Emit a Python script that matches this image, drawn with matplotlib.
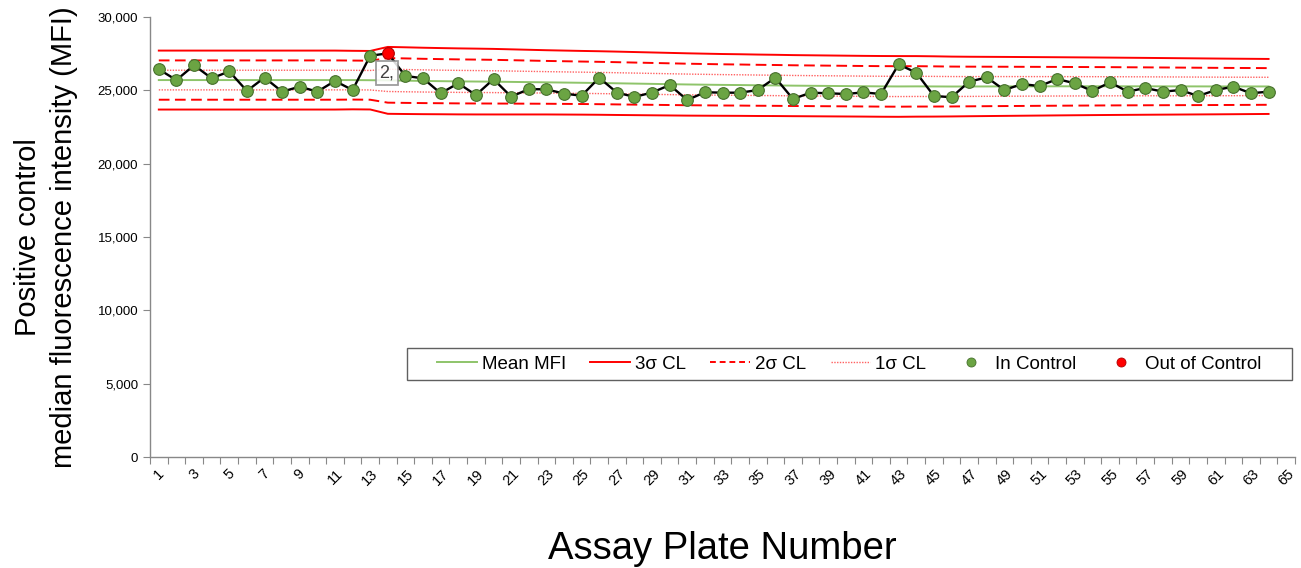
import matplotlib
matplotlib.use("Agg")
import matplotlib.pyplot as plt
from matplotlib.lines import Line2D
from matplotlib.patches import Rectangle
import numpy as np

plt.rcParams['font.family'] = ['Liberation Sans', 'DejaVu Sans']

# ---- data ----
plates = list(range(1, 65))
mfi = [26430, 25700, 26710, 25820, 26290, 24960, 25870, 24910, 25250, 24910,
       25640, 25020, 27360, 27520, 25980, 25820, 24800, 25480, 24680, 25760,
       24570, 25080, 25070, 24780, 24630, 25860, 24850, 24550, 24850, 25360,
       24340, 24870, 24840, 24840, 25020, 25860, 24410, 24840, 24800, 24750,
       24860, 24750, 26770, 26205, 24620, 24525, 25590, 25886, 25020, 25430,
       25290, 25770, 25480, 24950, 25550, 24910, 25160, 24910, 25020, 24610,
       25020, 25250, 24800, 24910]
out_of_control = [14]

mean_mfi = [25700, 25700, 25700, 25700, 25700, 25700, 25700, 25700, 25700, 25700,
            25700, 25700, 25690, 25680, 25660, 25640, 25625, 25610, 25600, 25590,
            25575, 25560, 25545, 25530, 25515, 25500, 25480, 25460, 25440, 25420,
            25400, 25385, 25370, 25360, 25345, 25335, 25320, 25310, 25300, 25290,
            25280, 25270, 25265, 25270, 25265, 25260, 25262, 25265, 25268, 25270,
            25272, 25274, 25275, 25276, 25276, 25275, 25274, 25272, 25270, 25268,
            25266, 25265, 25265, 25265]
sigma = [670, 670, 670, 670, 670, 670, 670, 670, 670, 670,
         670, 665, 665, 760, 758, 755, 752, 750, 748, 745,
         740, 735, 730, 727, 724, 722, 720, 717, 714, 711,
         708, 705, 702, 700, 698, 696, 694, 693, 692, 691,
         690, 690, 690, 688, 685, 680, 676, 673, 670, 667,
         664, 661, 658, 655, 652, 649, 646, 643, 640, 637,
         634, 631, 628, 625]
annotation_text = "2,"

x_ticklabels = [str(i) for i in range(1, 66, 2)]
y_ticks = [0, 5000, 10000, 15000, 20000, 25000, 30000]

# ---- figure ----
W, H = 1301, 568
fig = plt.figure(figsize=(W/100, H/100), dpi=100)
ax = fig.add_axes([150/W, 111/H, 1145/W, 440/H])

x = np.array(plates)
m = np.array(mean_mfi)
s = np.array(sigma)
red = '#FF0000'
green_line = '#8EC46A'
mk_face, mk_edge = '#6BA443', '#46702C'

ax.plot(x, m, color=green_line, lw=1.4, zorder=2)
for k in (1, -1):
    ax.plot(x, m + k*3*s, color=red, lw=1.4, zorder=2)
    ax.plot(x, m + k*2*s, color=red, lw=1.4, dashes=(5.5, 2.8), zorder=2)
    ax.plot(x, m + k*1*s, color='#FF6060', lw=1.0, dashes=(1, 1), zorder=2)

ax.plot(x, mfi, color='black', lw=1.7, zorder=3)
inc = [i for i, p in enumerate(plates) if p not in out_of_control]
ooc = [i for i, p in enumerate(plates) if p in out_of_control]
ax.plot(x[inc], np.array(mfi)[inc], ls='none', marker='o', ms=8.4,
        mfc=mk_face, mec=mk_edge, mew=0.8, zorder=4)
ax.plot(x[ooc], np.array(mfi)[ooc], ls='none', marker='o', ms=8.4,
        mfc=red, mec='#B00000', mew=0.8, zorder=4)

ax.text(13.95, 26180, annotation_text, ha='center', va='center', fontsize=13,
        color='#404040', zorder=5,
        bbox=dict(boxstyle='square,pad=0.2', fc='white', ec='#8C8C8C', lw=1.3, alpha=0.85))

ax.set_xlim(0.5, 65.5)
ax.set_ylim(0, 30000)
ax.set_xticks(np.arange(0.5, 66, 1))
ax.set_xticklabels([])
ax.set_xticks(np.arange(1, 66, 2), minor=True)
ax.set_xticklabels(x_ticklabels, minor=True, rotation=45, ha='center', va='top', fontsize=10.5)
ax.tick_params(axis='x', which='major', length=5, color='#888888', direction='out')
ax.tick_params(axis='x', which='minor', length=0, pad=7)
ax.set_yticks(y_ticks)
ax.set_yticklabels([f"{v:,}" for v in y_ticks], fontsize=9.5)
ax.tick_params(axis='y', length=5, color='#888888', direction='out')

for sp in ('top', 'right'):
    ax.spines[sp].set_visible(False)
for sp in ('left', 'bottom'):
    ax.spines[sp].set_color('#888888')
    ax.spines[sp].set_linewidth(1.0)

ax.set_ylabel("Positive control\nmedian fluorescence intensity (MFI)", fontsize=21,
              labelpad=14, linespacing=1.35)
ax.set_xlabel("Assay Plate Number", fontsize=27.5, labelpad=31)

handles = [
    Line2D([], [], color=green_line, lw=1.4),
    Line2D([], [], color=red, lw=1.4),
    Line2D([], [], color=red, lw=1.4, dashes=(3, 2)),
    Line2D([], [], color='#FF6060', lw=1.0, dashes=(1, 1)),
    Line2D([], [], ls='none', marker='o', ms=6.5, mfc=mk_face, mec=mk_edge, mew=0.6),
    Line2D([], [], ls='none', marker='o', ms=6.5, mfc=red, mec='#B00000', mew=0.6),
]
labels = ['Mean MFI', '3σ CL', '2σ CL', '1σ CL', 'In Control', 'Out of Control']
cx = ((407 + 1292) / 2 - 150) / 1145
cy = (457 - 364) / 440
leg = ax.legend(handles, labels, loc='center', ncol=6,
                bbox_to_anchor=(cx, cy), fontsize=13.5, frameon=False,
                borderaxespad=0, borderpad=0.2, handlelength=2.13,
                columnspacing=1.3, handletextpad=0.25)

fig.patches.append(Rectangle((407/W, (H-380)/H), (1292-407)/W, 32/H,
                             transform=fig.transFigure, fill=False,
                             ec='#606060', lw=1.0, zorder=10))

fig.savefig('out.png', dpi=100)
